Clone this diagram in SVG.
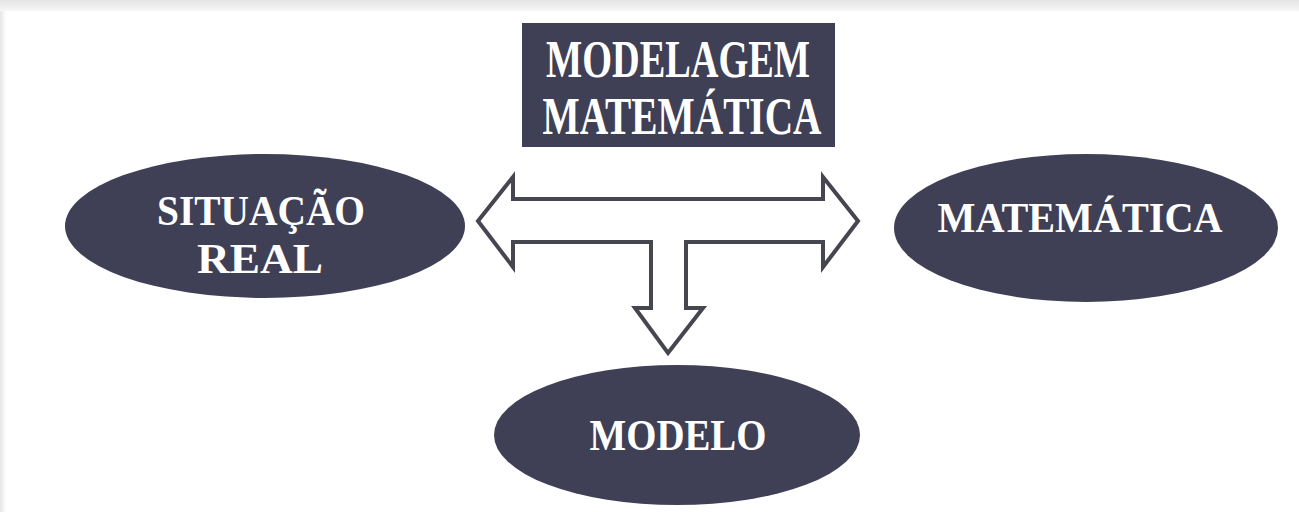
<svg xmlns="http://www.w3.org/2000/svg" width="1299" height="512" viewBox="0 0 1299 512">
  <defs>
    <linearGradient id="topShade" x1="0" y1="0" x2="0" y2="1">
      <stop offset="0" stop-color="#e4e4e4"/>
      <stop offset="1" stop-color="#f7f7f7"/>
    </linearGradient>
    <linearGradient id="leftShade" x1="0" y1="0" x2="1" y2="0">
      <stop offset="0" stop-color="#e6e6e6"/>
      <stop offset="1" stop-color="#ffffff"/>
    </linearGradient>
  </defs>
  <style>
    .node { fill: #3f4055; }
    .label { font-family: "Liberation Serif", "Times New Roman", serif; font-weight: bold; fill: #ffffff; text-anchor: middle; }
    .conn { fill: #ffffff; stroke: #45464f; stroke-width: 4; stroke-linejoin: miter; }
  </style>
  <rect x="0" y="0" width="1299" height="512" fill="#ffffff"/>
  <rect x="0" y="0" width="1299" height="11" fill="url(#topShade)"/>
  <rect x="0" y="11" width="6" height="501" fill="url(#leftShade)"/>

  <g id="connectors">
    <polygon class="conn" points="478,221 513,177 513,199 823,199 823,177 858,221 823,267 823,242 686,242 686,308 703,308 668,353 635,308 651,308 651,242 513,242 513,267"/>
  </g>

  <g id="modelagem">
    <rect class="node" x="522" y="23" width="313" height="124"/>
    <text class="label" x="678" y="77" font-size="52" textLength="264" lengthAdjust="spacingAndGlyphs">MODELAGEM</text>
    <text class="label" x="682" y="134" font-size="52" textLength="279" lengthAdjust="spacingAndGlyphs">MATEMÁTICA</text>
  </g>

  <g id="situacao-real">
    <ellipse class="node" cx="265" cy="226" rx="200" ry="72"/>
    <text class="label" x="261" y="225" font-size="42" textLength="208" lengthAdjust="spacingAndGlyphs">SITUAÇÃO</text>
    <text class="label" x="260" y="273" font-size="42" textLength="126" lengthAdjust="spacingAndGlyphs">REAL</text>
  </g>

  <g id="matematica">
    <ellipse class="node" cx="1086" cy="228" rx="192" ry="74"/>
    <text class="label" x="1080" y="232" font-size="43" textLength="285" lengthAdjust="spacingAndGlyphs">MATEMÁTICA</text>
  </g>

  <g id="modelo">
    <ellipse class="node" cx="677" cy="435" rx="183" ry="70"/>
    <text class="label" x="678" y="450" font-size="44" textLength="177" lengthAdjust="spacingAndGlyphs">MODELO</text>
  </g>
</svg>
